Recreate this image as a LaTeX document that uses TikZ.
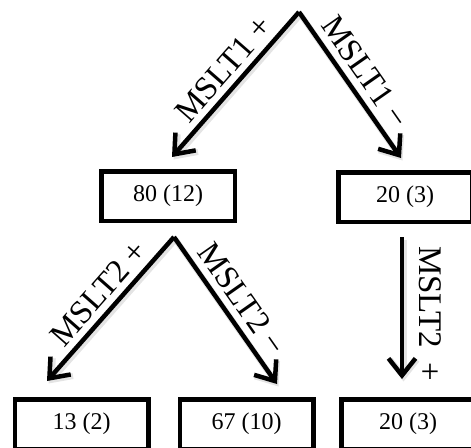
\documentclass[tikz,border=0pt]{standalone}
\usepackage{fontspec}
\setmainfont{Liberation Serif}
\usetikzlibrary{arrows.meta}
\begin{document}
\begin{tikzpicture}[x=1pt,y=-1pt,
  box/.style={draw, line width=4.5pt, minimum width=133.5pt, minimum height=49.5pt,
    inner sep=0pt, fill=white, font=\fontsize{24}{28}\selectfont},
  arr/.style={line width=4.5pt, -{Straight Barb[length=17pt,width=27pt]},
    preaction={draw=black!30, opacity=0.35, line width=6pt,
      transform canvas={shift={(1.5,2.5)}}}},
  lbl/.style={sloped, font=\fontsize{33}{36}\selectfont, inner sep=3pt}]
\useasboundingbox (0,0) rectangle (471,447);
% boxes
\node[box] (b80) at (168,196) {80 (12)};
\node[box] (b20a) at (405,197) {20 (3)};
\node[box] (b13) at (81.5,424) {13 (2)};
\node[box] (b67) at (246.5,424) {67 (10)};
\node[box] (b20b) at (408,424) {20 (3)};
% apexes and tips
\coordinate (top) at (299,12);
\coordinate (t1) at (172,157);
\coordinate (t2) at (401,158);
\coordinate (mid) at (174,237);
\coordinate (t3) at (47,381);
\coordinate (t4) at (277,384);
\coordinate (vs) at (402,237);
\coordinate (t5) at (402,379);
% arrows
\draw[arr] (top) -- node[lbl, above=3pt, pos=0.48] {MSLT1 +} (t1);
\draw[arr] (top) -- node[lbl, above=4pt, pos=0.49] {MSLT1 −} (t2);
\draw[arr] (mid) -- node[lbl, above=3pt, pos=0.48] {MSLT2 +} (t3);
\draw[arr] (mid) -- node[lbl, above=4pt, pos=0.5] {MSLT2 −} (t4);
\draw[arr] (vs) -- node[lbl, above=12pt, pos=0.54] {MSLT2\hspace{0.45em}+} (t5);
\end{tikzpicture}
\end{document}
